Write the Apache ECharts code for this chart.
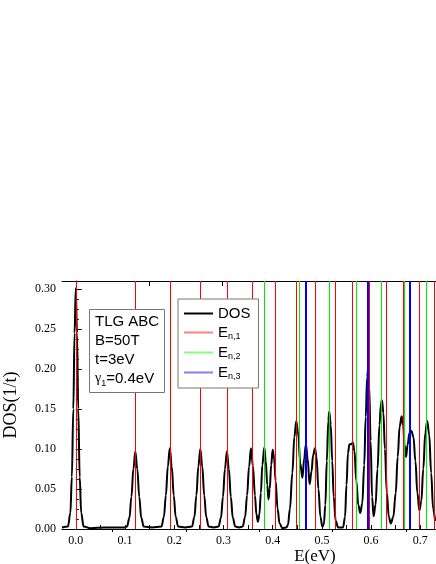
<!DOCTYPE html>
<html>
<head>
<meta charset="utf-8">
<script src="https://cdn.jsdelivr.net/npm/echarts@6/dist/echarts.min.js"></script>
<style>
  html, body { margin: 0; padding: 0; background: #fff; }
  #chart { width: 436px; height: 564px; }
</style>
</head>
<body>
<div id="chart"></div>
<script>
// DOS curve (energy in eV, DOS in 1/t)
const dosE = [
  -0.028, -0.016, -0.011, -0.008, -0.005, -0.0025, 0.000, 0.0025, 0.005, 0.008, 0.011, 0.016, 0.030, 0.060,
  0.100, 0.104, 0.109, 0.113, 0.117, 0.121, 0.125, 0.129, 0.133, 0.138, 0.155,
  0.174, 0.179, 0.183, 0.187, 0.191, 0.195, 0.199, 0.203, 0.208, 0.222,
  0.236, 0.241, 0.245, 0.249, 0.253, 0.257, 0.261, 0.265, 0.270, 0.280,
  0.290, 0.295, 0.299, 0.303, 0.307, 0.311, 0.315, 0.319, 0.324, 0.332,
  0.339, 0.344, 0.348, 0.352, 0.356, 0.360, 0.364, 0.367, 0.370, 0.373, 0.376, 0.379, 0.383, 0.386, 0.389,
  0.3915, 0.394, 0.397, 0.400, 0.403, 0.406, 0.410, 0.414, 0.420, 0.428,
  0.431, 0.435, 0.440, 0.444, 0.448, 0.452, 0.456, 0.4605, 0.464, 0.4675, 0.471, 0.475, 0.479, 0.482, 0.486,
  0.489, 0.493, 0.497, 0.501, 0.504, 0.507, 0.510, 0.513, 0.515, 0.518, 0.521, 0.524, 0.528, 0.533, 0.543,
  0.547, 0.550, 0.553, 0.556, 0.560, 0.563, 0.566, 0.570, 0.574, 0.578, 0.582, 0.586, 0.589, 0.592, 0.594,
  0.596, 0.599, 0.602, 0.605, 0.609, 0.613, 0.617, 0.620, 0.622, 0.625, 0.628, 0.632, 0.636, 0.640,
  0.645, 0.650, 0.654, 0.658, 0.662, 0.665, 0.668, 0.671, 0.674, 0.678, 0.682, 0.686, 0.690, 0.694, 0.698,
  0.702, 0.706, 0.710, 0.714, 0.718, 0.722, 0.726, 0.730,
];
const dosV = [
  0.002, 0.003, 0.020, 0.065, 0.150, 0.245, 0.301, 0.245, 0.150, 0.065, 0.020, 0.003, 0.001, 0.002,
  0.002, 0.003, 0.014, 0.040, 0.075, 0.097, 0.075, 0.040, 0.014, 0.003, 0.002,
  0.003, 0.015, 0.042, 0.078, 0.101, 0.078, 0.042, 0.015, 0.003, 0.002,
  0.003, 0.015, 0.042, 0.078, 0.100, 0.078, 0.042, 0.015, 0.003, 0.002,
  0.003, 0.014, 0.040, 0.075, 0.097, 0.075, 0.040, 0.014, 0.003, 0.002,
  0.003, 0.015, 0.042, 0.078, 0.101, 0.078, 0.042, 0.018, 0.009, 0.018, 0.045, 0.080, 0.102, 0.085, 0.055,
  0.037, 0.050, 0.080, 0.099, 0.088, 0.060, 0.025, 0.007, 0.001, 0.002,
  0.005, 0.025, 0.070, 0.115, 0.135, 0.118, 0.082, 0.064, 0.088, 0.106, 0.088, 0.056, 0.072, 0.092, 0.101,
  0.090, 0.050, 0.015, 0.003, 0.006, 0.030, 0.085, 0.135, 0.147, 0.130, 0.085, 0.040, 0.010, 0.002, 0.002,
  0.015, 0.055, 0.095, 0.106, 0.106, 0.108, 0.098, 0.060, 0.030, 0.020, 0.032, 0.080, 0.140, 0.190, 0.200,
  0.180, 0.110, 0.040, 0.016, 0.030, 0.075, 0.130, 0.157, 0.161, 0.145, 0.100, 0.045, 0.015, 0.007,
  0.015, 0.045, 0.090, 0.128, 0.141, 0.130, 0.105, 0.090, 0.105, 0.120, 0.1225, 0.115, 0.085, 0.045, 0.023,
  0.035, 0.075, 0.120, 0.135, 0.118, 0.070, 0.025, 0.010,
];

// Landau level energies (eV)
const en1 = [0.000, 0.121, 0.191, 0.253, 0.307, 0.357, 0.404, 0.448, 0.487, 0.526, 0.562, 0.596, 0.631, 0.664, 0.697, 0.727];
const en2 = [0.383, 0.453, 0.514, 0.570, 0.620, 0.667, 0.711];
const en3 = [0.467, 0.594, 0.680];

// axis ticks
const xLabels = [0, 0.1, 0.2, 0.3, 0.4, 0.5, 0.6, 0.7];
const xTicks = [0, 0.05, 0.1, 0.15, 0.2, 0.25, 0.3, 0.35, 0.4, 0.45, 0.5, 0.55, 0.6, 0.65, 0.7];
const topMajor = [0.149, 0.298, 0.447, 0.596];
const topMinor = [0.075, 0.224, 0.373, 0.522, 0.671];

const serif = 'Liberation Serif';
const sans = 'Liberation Sans';

const chart = echarts.init(document.getElementById('chart'));

// full-height vertical line at each level, snapped to the pixel grid so it stays crisp
const levelSeries = (name, values, color, legendColor, width) => ({
  name,
  type: 'custom',
  z: 3,
  silent: true,
  clip: true,
  itemStyle: { color: legendColor },
  data: values.map((v) => [v]),
  encode: { x: 0 },
  renderItem: (params, api) => {
    const cs = params.coordSys;
    const px = api.coord([api.value(0), 0])[0];
    const x = width % 2 === 1 ? Math.round(px) + 0.5 : Math.round(px);
    return {
      type: 'line',
      shape: { x1: x, y1: cs.y, x2: x, y2: cs.y + cs.height },
      style: { stroke: color, lineWidth: width },
    };
  },
});

const xBase = {
  type: 'value',
  min: -0.028,
  max: 1.0,
  splitLine: { show: false },
  axisLine: { show: true, onZero: false, lineStyle: { color: '#000', width: 1 } },
};

const option = {
  backgroundColor: '#fff',
  animation: false,
  // the original plot runs past the right edge of the picture
  grid: { left: 62, top: 281, bottom: 35, width: 506, outerBoundsMode: 'none', containLabel: false },
  title: {
    left: 89,
    top: 307,
    padding: [5, 6, 5, 6],
    backgroundColor: '#fff',
    borderColor: '#777',
    borderWidth: 1,
    text: '{t|TLG ABC}\n{t|B=50T}\n{t|t=3eV}\n{g|γ}{s|1}{t|=0.4eV}',
    textStyle: {
      fontWeight: 'normal',
      rich: {
        t: { fontFamily: sans, fontSize: 15, fontWeight: 'normal', lineHeight: 19, color: '#000' },
        g: { fontFamily: serif, fontSize: 14, fontWeight: 'normal', lineHeight: 19, color: '#000' },
        s: { fontFamily: sans, fontSize: 9, fontWeight: 'normal', lineHeight: 9, verticalAlign: 'bottom', color: '#000' },
      },
    },
  },
  legend: {
    orient: 'vertical',
    left: 178,
    top: 299,
    padding: [7, 8, 7, 6],
    itemGap: 4,
    itemWidth: 29,
    itemHeight: 2,
    icon: 'rect',
    backgroundColor: '#fff',
    borderColor: '#777',
    borderWidth: 1,
    data: ['DOS', 'En1', 'En2', 'En3'],
    formatter: (name) => (name === 'DOS' ? '{a|DOS}' : '{a|E}{s|n,' + name.slice(2) + '}'),
    textStyle: {
      rich: {
        a: { fontFamily: sans, fontSize: 15, lineHeight: 17, color: '#000' },
        s: { fontFamily: sans, fontSize: 9, lineHeight: 9, verticalAlign: 'bottom', color: '#000' },
      },
    },
  },
  xAxis: [
    {
      ...xBase,
      position: 'bottom',
      name: 'E(eV)',
      nameLocation: 'middle',
      nameGap: 18,
      nameTextStyle: { fontFamily: serif, fontSize: 17, color: '#000' },
      axisTick: { show: true, inside: true, length: 4, customValues: xTicks, lineStyle: { color: '#000' } },
      axisLabel: {
        customValues: xLabels,
        margin: 6,
        fontFamily: serif,
        fontSize: 12,
        color: '#000',
        formatter: (v) => v.toFixed(1),
      },
    },
    {
      ...xBase,
      position: 'top',
      axisTick: { show: true, inside: true, length: 5, customValues: topMajor, lineStyle: { color: '#000' } },
      axisLabel: { show: false },
    },
    {
      ...xBase,
      position: 'top',
      axisLine: { show: false },
      axisTick: { show: true, inside: true, length: 3, customValues: topMinor, lineStyle: { color: '#000' } },
      axisLabel: { show: false },
    },
  ],
  yAxis: {
    type: 'value',
    min: 0,
    max: 0.31,
    interval: 0.05,
    name: 'DOS(1/t)',
    nameLocation: 'middle',
    nameRotate: 90,
    nameGap: 42,
    nameTextStyle: { fontFamily: serif, fontSize: 18, color: '#000' },
    splitLine: { show: false },
    axisLine: { show: true, lineStyle: { color: '#000', width: 1 } },
    axisTick: { show: true, inside: true, length: 6, lineStyle: { color: '#000' } },
    minorTick: { show: true, splitNumber: 4, length: 3, lineStyle: { color: '#000' } },
    axisLabel: {
      margin: 6,
      fontFamily: serif,
      fontSize: 12,
      color: '#000',
      formatter: (v) => v.toFixed(2),
    },
  },
  series: [
    {
      name: 'DOS',
      type: 'line',
      z: 2,
      symbol: 'none',
      smooth: 0.4,
      smoothMonotone: 'x',
      data: dosE.map((e, i) => [e, dosV[i]]),
      lineStyle: { color: '#000', width: 2 },
      itemStyle: { color: '#000' },
    },
    levelSeries('En1', en1, '#ff0000', '#ff8080', 1),
    levelSeries('En2', en2, '#00ee00', '#80ff80', 1),
    levelSeries('En3', en3, '#0000ff', '#8080ff', 2),
  ],
};

chart.setOption(option);
</script>
</body>
</html>
